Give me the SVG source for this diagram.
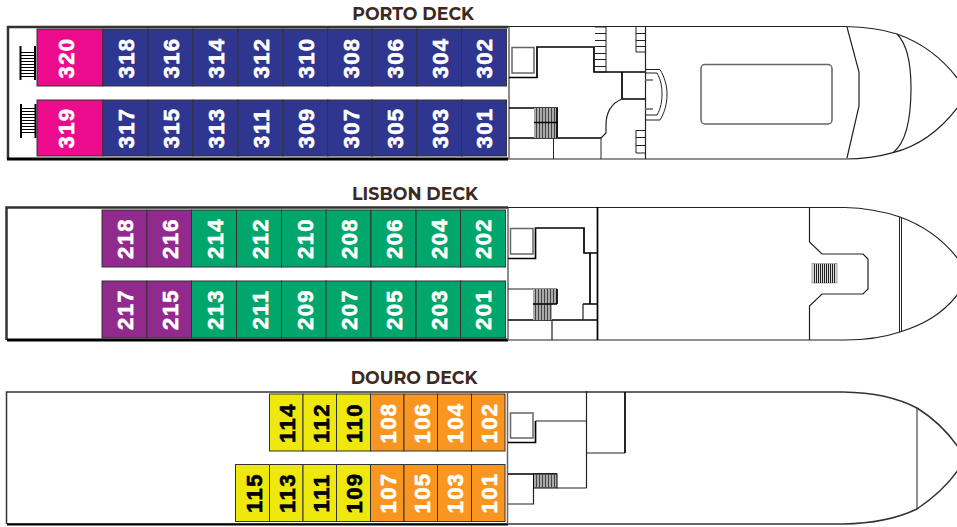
<svg xmlns="http://www.w3.org/2000/svg" width="957" height="527" viewBox="0 0 957 527">
<style>
.t{font-family:"Montserrat","Open Sans","Liberation Sans",sans-serif;font-weight:700;font-size:17.4px;fill:#3c2a21;text-anchor:middle}
.n{font-family:"Liberation Sans",Arial,sans-serif;font-weight:700;font-size:22px;letter-spacing:1.5px;text-anchor:middle;fill:#fff;stroke:#fff;stroke-width:.6}
.n.k{fill:#000;stroke:#000}
.r{stroke:#333;stroke-width:1}
.l{fill:none;stroke:#222;stroke-width:1.2}
.g{fill:none;stroke:#666;stroke-width:1.5}
.h{fill:none;stroke:#000;stroke-width:1.7}
.s{fill:none;stroke:#222;stroke-width:1}
.pk{fill:#ec0b8c}.bl{fill:#2e3690}.pu{fill:#92298d}.gr{fill:#00a66b}.ye{fill:#eee80c}.or{fill:#f99621}
</style>
<rect width="957" height="527" fill="#fff"/>
<g id="deck-porto-plan">
<text class="t" x="413" y="20">PORTO DECK</text>
<path class="l" d="M507 26.500H845C870 27 885 30 897 34C920 42 942 58 958 79M958 107C942 128 920 146 893 152.700C878 157 860 159 845 159H507"/>
<path d="M8 159V27H508" fill="none" stroke="#333" stroke-width="2.500"/>
<path d="M7 159H508" fill="none" stroke="#000" stroke-width="3"/>
<path class="g" d="M509 27V159"/>
<rect x="512" y="47.500" width="22" height="25.500" class="g"/>
<path class="h" d="M509 77.500H537V47H594V72H622"/>
<path class="s" d="M595 27H606V72H595M595 33.500H606M595 40.500H606M595 46.500H606M595 53.500H606M595 59.500H606M595 66.500H606"/>
<path class="h" d="M622 72V99M622 99H645M622 72H645"/>
<path class="l" d="M645.500 26V159" stroke-width="1.500"/>
<path class="s" d="M636 27V52H645M636 33.500H645M636 40.500H645M636 46.500H645"/>
<path class="s" d="M645 130.500H636V153H645M636 137.500H645M636 145.500H645"/>
<path class="l" d="M622 99C610 104 606 115 606 125V133L601 138"/>
<path class="h" d="M509 138H601M509 108H558"/>
<path class="s" d="M553.500 138V159M601 138V159"/>
<path class="s" d="M645 69.500H660C665 78 667 86 667 94C667 103 665 112 660 120H645M645 73H657C661 80 662 87 662 94C662 101 661 108 657 115H645"/>
<path class="g" d="M645 80H653M645 109H653"/>
<rect x="701" y="64.500" width="131" height="59.500" rx="4" class="g"/>
<path class="l" d="M847 27L859 72V106L847 158M897 34C907 44 911 65 911 88C911 115 907 142 893 152.700"/>
<g id="stairs-porto"><rect x="534" y="108" width="24" height="30" fill="#aaa"/><path stroke="#444" stroke-width="1" d="M536.500 108V138M539.500 108V138M542.500 108V138M545.500 108V138M548.500 108V138M551.500 108V138M554.500 108V138" fill="none"/><path class="h" d="M534 122.500H558M557 108V138"/></g>
<g id="gangways-porto">
<path stroke="#000" fill="none" stroke-width="1" d="M21 52.500H36M21 55.500H36M21 58.500H36M21 61.500H36M21 64.500H36M21 67.500H36M21 70.500H36M21 73.500H36M21 76.500H36"/>
<path stroke="#000" fill="none" stroke-width="1" d="M21 108.500H36M21 111.500H36M21 114.500H36M21 117.500H36M21 120.500H36M21 123.500H36M21 126.500H36M21 129.500H36M21 132.500H36"/>
<path d="M20.500 46V80M35 46V80M21 104V138M35.500 104V138" stroke="#000" stroke-width="2" fill="none"/>
</g>
</g>
<g id="deck-lisbon-plan">
<text class="t" x="415" y="200">LISBON DECK</text>
<path class="l" d="M507 207.500H845C870 208 885 212 900 217C922 225 942 238 958 259M958 294C942 315 922 325 900 332C885 337 870 340 845 340H507"/>
<path d="M6.500 340V207.500H508" fill="none" stroke="#333" stroke-width="2.500"/>
<path d="M7 340H508" fill="none" stroke="#000" stroke-width="3"/>
<path class="g" d="M508 208V340"/>
<rect x="510.500" y="228.500" width="22.500" height="25.500" class="g"/>
<path class="h" d="M508 258.500H535.500V228H584V253H597M590 253V304M583 304H597M508 320H597M597.500 207V340"/>
<path class="l" d="M583 304V320M508 289H557M552 320V340"/>
<path class="l" d="M809.500 207V242L822 254H863L868 259V289L863 294H822L809.500 306V340"/>
<rect x="812" y="263.500" width="25" height="19.500" fill="#ddd" stroke="#666" stroke-width=".5"/>
<path stroke="#222" fill="none" d="M814.500 264V283M816.500 264V283M818.500 264V283M820.500 264V283M822.500 264V283M824.500 264V283M826.500 264V283M828.500 264V283M830.500 264V283M832.500 264V283M834.500 264V283"/>
<path class="s" d="M899.500 217V332M901.500 217V332"/>
<g id="stairs-lisbon"><rect x="533" y="289" width="24" height="15" fill="#aaa"/><rect x="533" y="304" width="19" height="16" fill="#aaa"/><path stroke="#444" fill="none" d="M535.500 289V320M538.500 289V320M541.500 289V320M544.500 289V320M547.500 289V320M550.500 289V320M553.500 289V304"/><path class="h" d="M533 304H557M557 289V304"/></g>
</g>
<g id="deck-douro-plan">
<text class="t" x="414" y="384">DOURO DECK</text>
<path d="M6.500 524V392H843C875 392.500 898 398 917 408C933 418 947 431 958 447M958 470C947 486 933 498 917 509C898 518 875 523.500 843 524H7" fill="none" stroke="#333" stroke-width="1.500"/>
<path d="M7 524.500H508" fill="none" stroke="#000" stroke-width="2"/>
<path class="g" d="M507.500 391V524"/>
<rect x="510.500" y="413" width="22.500" height="25" class="g"/>
<path class="h" d="M508 442.500H535.500V421"/>
<path class="l" d="M535.500 421H586.500M586.500 391V488M586.500 453H625M557 488H586.500M533.500 488V504H508"/>
<path class="h" d="M625 392V453M508 474H557"/>
<path class="s" d="M917 408V509"/>
<g id="stairs-douro"><rect x="533.500" y="474" width="23.500" height="14" fill="#aaa" stroke="#000"/><path stroke="#444" fill="none" d="M536.500 474V488M539.500 474V488M542.500 474V488M545.500 474V488M548.500 474V488M551.500 474V488M554.500 474V488"/></g>
</g>
<g id="room-320"><rect class="r pk" x="37" y="29" width="66" height="57"/><text class="n" transform="translate(74 58) rotate(-90)">320</text></g>
<g id="room-318"><rect class="r bl" x="103" y="29" width="45" height="57"/><text class="n" transform="translate(134 58) rotate(-90)">318</text></g>
<g id="room-316"><rect class="r bl" x="148" y="29" width="45" height="57"/><text class="n" transform="translate(179 58) rotate(-90)">316</text></g>
<g id="room-314"><rect class="r bl" x="193" y="29" width="45" height="57"/><text class="n" transform="translate(224 58) rotate(-90)">314</text></g>
<g id="room-312"><rect class="r bl" x="238" y="29" width="45" height="57"/><text class="n" transform="translate(269 58) rotate(-90)">312</text></g>
<g id="room-310"><rect class="r bl" x="283" y="29" width="45" height="57"/><text class="n" transform="translate(314 58) rotate(-90)">310</text></g>
<g id="room-308"><rect class="r bl" x="327.500" y="29" width="45" height="57"/><text class="n" transform="translate(359 58) rotate(-90)">308</text></g>
<g id="room-306"><rect class="r bl" x="372" y="29" width="45" height="57"/><text class="n" transform="translate(403 58) rotate(-90)">306</text></g>
<g id="room-304"><rect class="r bl" x="417" y="29" width="45" height="57"/><text class="n" transform="translate(448 58) rotate(-90)">304</text></g>
<g id="room-302"><rect class="r bl" x="461.500" y="29" width="45" height="57"/><text class="n" transform="translate(492 58) rotate(-90)">302</text></g>
<g id="room-319"><rect class="r pk" x="37" y="100" width="66" height="56"/><text class="n" transform="translate(74 128) rotate(-90)">319</text></g>
<g id="room-317"><rect class="r bl" x="103" y="100" width="45" height="56"/><text class="n" transform="translate(134 128) rotate(-90)">317</text></g>
<g id="room-315"><rect class="r bl" x="148" y="100" width="45" height="56"/><text class="n" transform="translate(179 128) rotate(-90)">315</text></g>
<g id="room-313"><rect class="r bl" x="193" y="100" width="45" height="56"/><text class="n" transform="translate(224 128) rotate(-90)">313</text></g>
<g id="room-311"><rect class="r bl" x="238" y="100" width="45" height="56"/><text class="n" transform="translate(269 128) rotate(-90)">311</text></g>
<g id="room-309"><rect class="r bl" x="283" y="100" width="45" height="56"/><text class="n" transform="translate(314 128) rotate(-90)">309</text></g>
<g id="room-307"><rect class="r bl" x="327.500" y="100" width="45" height="56"/><text class="n" transform="translate(359 128) rotate(-90)">307</text></g>
<g id="room-305"><rect class="r bl" x="372" y="100" width="45" height="56"/><text class="n" transform="translate(403 128) rotate(-90)">305</text></g>
<g id="room-303"><rect class="r bl" x="417" y="100" width="45" height="56"/><text class="n" transform="translate(448 128) rotate(-90)">303</text></g>
<g id="room-301"><rect class="r bl" x="461.500" y="100" width="45" height="56"/><text class="n" transform="translate(492 128) rotate(-90)">301</text></g>
<g id="room-218"><rect class="r pu" x="102" y="210" width="45" height="57"/><text class="n" transform="translate(133 238.500) rotate(-90)">218</text></g>
<g id="room-216"><rect class="r pu" x="147" y="210" width="44.500" height="57"/><text class="n" transform="translate(178 238.500) rotate(-90)">216</text></g>
<g id="room-214"><rect class="r gr" x="191.500" y="210" width="45" height="57"/><text class="n" transform="translate(223 238.500) rotate(-90)">214</text></g>
<g id="room-212"><rect class="r gr" x="236.500" y="210" width="45" height="57"/><text class="n" transform="translate(268 238.500) rotate(-90)">212</text></g>
<g id="room-210"><rect class="r gr" x="281.500" y="210" width="45" height="57"/><text class="n" transform="translate(313 238.500) rotate(-90)">210</text></g>
<g id="room-208"><rect class="r gr" x="326" y="210" width="45" height="57"/><text class="n" transform="translate(357 238.500) rotate(-90)">208</text></g>
<g id="room-206"><rect class="r gr" x="371" y="210" width="45" height="57"/><text class="n" transform="translate(402 238.500) rotate(-90)">206</text></g>
<g id="room-204"><rect class="r gr" x="416" y="210" width="45" height="57"/><text class="n" transform="translate(447 238.500) rotate(-90)">204</text></g>
<g id="room-202"><rect class="r gr" x="460.500" y="210" width="45" height="57"/><text class="n" transform="translate(491 238.500) rotate(-90)">202</text></g>
<g id="room-217"><rect class="r pu" x="102" y="281" width="45" height="57"/><text class="n" transform="translate(133 309.500) rotate(-90)">217</text></g>
<g id="room-215"><rect class="r pu" x="147" y="281" width="44.500" height="57"/><text class="n" transform="translate(178 309.500) rotate(-90)">215</text></g>
<g id="room-213"><rect class="r gr" x="191.500" y="281" width="45" height="57"/><text class="n" transform="translate(223 309.500) rotate(-90)">213</text></g>
<g id="room-211"><rect class="r gr" x="236.500" y="281" width="45" height="57"/><text class="n" transform="translate(268 309.500) rotate(-90)">211</text></g>
<g id="room-209"><rect class="r gr" x="281.500" y="281" width="45" height="57"/><text class="n" transform="translate(313 309.500) rotate(-90)">209</text></g>
<g id="room-207"><rect class="r gr" x="326" y="281" width="45" height="57"/><text class="n" transform="translate(357 309.500) rotate(-90)">207</text></g>
<g id="room-205"><rect class="r gr" x="371" y="281" width="45" height="57"/><text class="n" transform="translate(402 309.500) rotate(-90)">205</text></g>
<g id="room-203"><rect class="r gr" x="416" y="281" width="45" height="57"/><text class="n" transform="translate(447 309.500) rotate(-90)">203</text></g>
<g id="room-201"><rect class="r gr" x="460.500" y="281" width="45" height="57"/><text class="n" transform="translate(491 309.500) rotate(-90)">201</text></g>
<g id="room-114"><rect class="r ye" x="269.500" y="394" width="33.500" height="57"/><text class="n k" transform="translate(295 423) rotate(-90)">114</text></g>
<g id="room-112"><rect class="r ye" x="303" y="394" width="33.500" height="57"/><text class="n k" transform="translate(329 423) rotate(-90)">112</text></g>
<g id="room-110"><rect class="r ye" x="336.500" y="394" width="34" height="57"/><text class="n k" transform="translate(362 423) rotate(-90)">110</text></g>
<g id="room-108"><rect class="r or" x="370.500" y="394" width="33.500" height="57"/><text class="n" transform="translate(396 423) rotate(-90)">108</text></g>
<g id="room-106"><rect class="r or" x="404" y="394" width="33.500" height="57"/><text class="n" transform="translate(430 423) rotate(-90)">106</text></g>
<g id="room-104"><rect class="r or" x="437.500" y="394" width="34" height="57"/><text class="n" transform="translate(463 423) rotate(-90)">104</text></g>
<g id="room-102"><rect class="r or" x="471.500" y="394" width="33.500" height="57"/><text class="n" transform="translate(497 423) rotate(-90)">102</text></g>
<g id="room-115"><rect class="r ye" x="235.500" y="464.500" width="34" height="57"/><text class="n k" transform="translate(262 493) rotate(-90)">115</text></g>
<g id="room-113"><rect class="r ye" x="269.500" y="464.500" width="33.500" height="57"/><text class="n k" transform="translate(295 493) rotate(-90)">113</text></g>
<g id="room-111"><rect class="r ye" x="303" y="464.500" width="33.500" height="57"/><text class="n k" transform="translate(329 493) rotate(-90)">111</text></g>
<g id="room-109"><rect class="r ye" x="336.500" y="464.500" width="34" height="57"/><text class="n k" transform="translate(362 493) rotate(-90)">109</text></g>
<g id="room-107"><rect class="r or" x="370.500" y="464.500" width="33.500" height="57"/><text class="n" transform="translate(396 493) rotate(-90)">107</text></g>
<g id="room-105"><rect class="r or" x="404" y="464.500" width="33.500" height="57"/><text class="n" transform="translate(430 493) rotate(-90)">105</text></g>
<g id="room-103"><rect class="r or" x="437.500" y="464.500" width="34" height="57"/><text class="n" transform="translate(463 493) rotate(-90)">103</text></g>
<g id="room-101"><rect class="r or" x="471.500" y="464.500" width="33.500" height="57"/><text class="n" transform="translate(497 493) rotate(-90)">101</text></g>
</svg>
